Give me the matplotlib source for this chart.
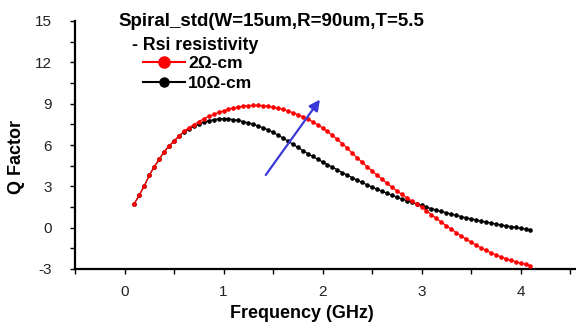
import numpy as np
import matplotlib
matplotlib.use("Agg")
import matplotlib.pyplot as plt
from matplotlib.lines import Line2D
from matplotlib.ticker import MultipleLocator

plt.rcParams['font.family'] = ['Liberation Sans', 'DejaVu Sans']
plt.rcParams['axes.unicode_minus'] = False

# frequency sweep (GHz)
freq = [0.10, 0.15, 0.20, 0.25, 0.30, 0.35, 0.40, 0.45, 0.50,
        0.55, 0.60, 0.65, 0.70, 0.75, 0.80, 0.85, 0.90, 0.95,
        1.00, 1.05, 1.10, 1.15, 1.20, 1.25, 1.30, 1.35, 1.40,
        1.45, 1.50, 1.55, 1.60, 1.65, 1.70, 1.75, 1.80, 1.85,
        1.90, 1.95, 2.00, 2.05, 2.10, 2.15, 2.20, 2.25, 2.30,
        2.35, 2.40, 2.45, 2.50, 2.55, 2.60, 2.65, 2.70, 2.75,
        2.80, 2.85, 2.90, 2.95, 3.00, 3.05, 3.10, 3.15, 3.20,
        3.25, 3.30, 3.35, 3.40, 3.45, 3.50, 3.55, 3.60, 3.65,
        3.70, 3.75, 3.80, 3.85, 3.90, 3.95, 4.00, 4.05, 4.10]

# Q factor, 2 ohm-cm substrate
q_2ohm = [1.75, 2.38, 3.03, 3.80, 4.41, 4.96, 5.50, 5.93, 6.28,
          6.65, 6.98, 7.25, 7.48, 7.70, 7.90, 8.08, 8.22, 8.36,
          8.48, 8.59, 8.68, 8.76, 8.82, 8.86, 8.88, 8.88, 8.86,
          8.81, 8.75, 8.67, 8.58, 8.47, 8.35, 8.21, 8.05, 7.88,
          7.70, 7.48, 7.24, 6.98, 6.70, 6.40, 6.09, 5.78, 5.40,
          5.07, 4.75, 4.43, 4.12, 3.82, 3.52, 3.23, 2.95, 2.68,
          2.42, 2.17, 1.94, 1.72, 1.50, 1.22, 0.94, 0.67, 0.40,
          0.14, -0.11, -0.36, -0.60, -0.83, -1.05, -1.26, -1.46, -1.64,
          -1.81, -1.97, -2.11, -2.24, -2.36, -2.47, -2.57, -2.66, -2.75]

# Q factor, 10 ohm-cm substrate
q_10ohm = [1.75, 2.38, 3.03, 3.80, 4.41, 4.96, 5.50, 5.93, 6.28,
           6.65, 6.95, 7.15, 7.35, 7.50, 7.65, 7.76, 7.84, 7.89,
           7.91, 7.89, 7.84, 7.78, 7.70, 7.61, 7.50, 7.38, 7.25,
           7.10, 6.92, 6.72, 6.51, 6.29, 6.06, 5.83, 5.60, 5.38,
           5.17, 4.97, 4.78, 4.58, 4.39, 4.19, 4.00, 3.81, 3.63,
           3.45, 3.28, 3.11, 2.95, 2.80, 2.65, 2.50, 2.36, 2.22,
           2.08, 1.96, 1.84, 1.72, 1.61, 1.49, 1.38, 1.28, 1.18,
           1.08, 0.99, 0.90, 0.81, 0.72, 0.64, 0.56, 0.48, 0.41,
           0.34, 0.27, 0.20, 0.14, 0.08, 0.02, -0.04, -0.10, -0.16]

fig = plt.figure(figsize=(5.76, 3.25), dpi=100)
ax = fig.add_axes([75/576, 1-269/325, 501/576, 248/325])

ax.plot(freq, q_2ohm, color='red', lw=0.9, marker='o', ms=2.3, zorder=3)
ax.plot(freq, q_10ohm, color='black', lw=0.9, marker='o', ms=2.3, zorder=2)

# blue trend arrow
ax.annotate('', xy=(1.99, 9.46), xytext=(1.41, 3.66),
            arrowprops=dict(arrowstyle='-|>', color='#3a3ad8', lw=1.6,
                            mutation_scale=16))

ax.set_xlim(-0.5, 4.56)
ax.set_ylim(-3, 15)
ax.xaxis.set_major_locator(MultipleLocator(1))
ax.xaxis.set_minor_locator(MultipleLocator(0.5))
ax.yaxis.set_major_locator(MultipleLocator(3))
ax.yaxis.set_minor_locator(MultipleLocator(1.5))

for s in ['top', 'right']:
    ax.spines[s].set_visible(False)
for s in ['left', 'bottom']:
    ax.spines[s].set_linewidth(1.6)

ax.tick_params(which='both', direction='out', length=3.5, width=1)
ax.tick_params(axis='y', pad=13, labelsize=11, labelcolor='#222222')
ax.tick_params(axis='x', pad=8, labelsize=11, labelcolor='#222222')

ax.set_xlabel('Frequency (GHz)', fontsize=13, fontweight='bold')
ax.xaxis.set_label_coords(0.453, -0.18)
ax.xaxis.label.set_va('center')
ax.set_ylabel('Q Factor', fontsize=13, fontweight='bold')
ax.yaxis.set_label_coords(-0.116, 0.452)
ax.yaxis.label.set_va('center')

fig.text(118/576, 1-22/325, 'Spiral_std(W=15um,R=90um,T=5.5',
         fontsize=13.5, fontweight='bold', va='center', ha='left')
fig.text(132/576, 1-45/325, '- Rsi resistivity',
         fontsize=12.8, fontweight='bold', va='center', ha='left')

handles = [Line2D([], [], color='red', lw=1.5, marker='o', ms=8),
           Line2D([], [], color='black', lw=1.5, marker='o', ms=6.5)]
fig.legend(handles, ['2Ω-cm', '10Ω-cm'], loc='upper left',
           bbox_to_anchor=(143/576, 1-56/325), frameon=False,
           borderpad=0, borderaxespad=0, handlelength=2.4,
           handletextpad=0.2, labelspacing=0.25,
           prop={'size': 12.5, 'weight': 'bold'})

fig.savefig('out.png', dpi=100)
